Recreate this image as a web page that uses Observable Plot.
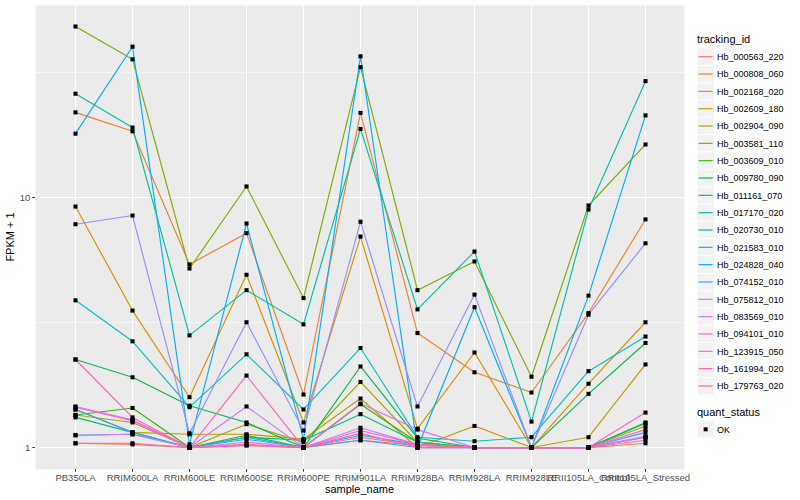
<!DOCTYPE html>
<html><head><meta charset="utf-8">
<script src="https://cdn.jsdelivr.net/npm/d3@7"></script>
<script src="https://cdn.jsdelivr.net/npm/@observablehq/plot@0.6"></script>
<style>
body{margin:0;background:#fff;font-family:"Liberation Sans",Arial,sans-serif;}
#wrap{position:relative;width:800px;height:500px;overflow:hidden;}
#wrap svg{display:block;}
#overlay{position:absolute;left:0;top:0;pointer-events:none;}
</style></head><body><div id="wrap"></div>
<script>
// ---- data ----
const samples = ["PB350LA","RRIM600LA","RRIM600LE","RRIM600SE","RRIM600PE","RRIM901LA","RRIM928BA","RRIM928LA","RRIM928LE","RRII105LA_Control","RRII105LA_Stressed"];
const trackingIds = ["Hb_000563_220","Hb_000808_060","Hb_002168_020","Hb_002609_180","Hb_002904_090","Hb_003581_110","Hb_003609_010","Hb_009780_090","Hb_011161_070","Hb_017170_020","Hb_020730_010","Hb_021583_010","Hb_024828_040","Hb_074152_010","Hb_075812_010","Hb_083569_010","Hb_094101_010","Hb_123915_050","Hb_161994_020","Hb_179763_020"];
const trackingColors = ["#F8766D","#EA8331","#D89000","#C09B00","#A3A500","#7CAE00","#39B600","#00BB4E","#00BF7D","#00C1A3","#00BFC4","#00BAE0","#00B0F6","#35A2FF","#9590FF","#C77CFF","#E76BF3","#FA62DB","#FF62BC","#FF6C91"];

// FPKM + 1 per tracking id, in sample order
const Hb_000563_220 = [1.04, 1.03, 1.00, 1.02, 1.00, 1.07, 1.02, 1.00, 1.00, 1.00, 1.04];
const Hb_000808_060 = [21.9, 18.4, 5.40, 7.20, 1.63, 21.8, 2.87, 2.00, 1.66, 3.45, 8.17];
const Hb_002168_020 = [9.20, 3.53, 1.59, 4.91, 1.26, 6.98, 1.19, 2.40, 1.00, 1.80, 3.17];
const Hb_002609_180 = [1.42, 1.15, 1.13, 1.13, 1.08, 1.57, 1.00, 1.22, 1.00, 1.10, 2.15];
const Hb_002904_090 = [1.35, 1.26, 1.00, 1.24, 1.05, 1.83, 1.05, 1.00, 1.00, 1.00, 1.22];
const Hb_003581_110 = [48.3, 35.7, 5.20, 11.07, 3.96, 33.2, 4.26, 5.55, 1.92, 9.29, 16.3];
const Hb_003609_010 = [1.35, 1.44, 1.00, 1.12, 1.00, 1.49, 1.05, 1.00, 1.00, 1.00, 1.25];
const Hb_009780_090 = [2.25, 1.91, 1.47, 1.26, 1.00, 2.11, 1.09, 1.00, 1.00, 1.64, 2.62];
const Hb_011161_070 = [1.32, 1.15, 1.00, 1.10, 1.07, 1.36, 1.05, 1.00, 1.00, 1.00, 1.26];
const Hb_017170_020 = [26.0, 19.05, 2.81, 4.26, 3.11, 18.8, 3.57, 6.08, 1.27, 8.95, 29.2];
const Hb_020730_010 = [3.88, 2.66, 1.45, 2.36, 1.42, 2.50, 1.10, 1.06, 1.10, 2.02, 2.78];
const Hb_021583_010 = [1.12, 1.13, 1.00, 1.10, 1.00, 1.12, 1.03, 1.00, 1.00, 1.00, 1.10];
const Hb_024828_040 = [18.0, 40.1, 1.03, 7.87, 1.08, 36.7, 1.00, 3.64, 1.00, 4.05, 21.3];
const Hb_074152_010 = [1.42, 1.15, 1.00, 1.08, 1.00, 1.07, 1.00, 1.00, 1.00, 1.00, 1.15];
const Hb_075812_010 = [7.82, 8.47, 1.14, 3.17, 1.17, 8.00, 1.46, 4.09, 1.00, 3.40, 6.56];
const Hb_083569_010 = [1.12, 1.13, 1.00, 1.46, 1.00, 1.20, 1.03, 1.00, 1.00, 1.00, 1.11];
const Hb_094101_010 = [1.46, 1.29, 1.00, 1.05, 1.00, 1.50, 1.18, 1.00, 1.00, 1.00, 1.10];
const Hb_123915_050 = [1.45, 1.28, 1.00, 1.02, 1.00, 1.17, 1.03, 1.00, 1.00, 1.00, 1.18];
const Hb_161994_020 = [2.25, 1.32, 1.00, 1.94, 1.00, 1.14, 1.00, 1.00, 1.00, 1.00, 1.38];
const Hb_179763_020 = [1.04, 1.04, 1.00, 1.03, 1.00, 1.10, 1.02, 1.00, 1.00, 1.00, 1.07];

const seriesValues = [Hb_000563_220, Hb_000808_060, Hb_002168_020, Hb_002609_180, Hb_002904_090, Hb_003581_110, Hb_003609_010, Hb_009780_090, Hb_011161_070, Hb_017170_020, Hb_020730_010, Hb_021583_010, Hb_024828_040, Hb_074152_010, Hb_075812_010, Hb_083569_010, Hb_094101_010, Hb_123915_050, Hb_161994_020, Hb_179763_020];

const yMajor = [1, 10];
const yMinor = [Math.sqrt(10), Math.sqrt(1000)];

// ---- build table ----
const rows = [];
trackingIds.forEach((id, i) => seriesValues[i].forEach((v, j) => rows.push({tracking_id: id, sample_name: samples[j], fpkm1: v, quant_status: "OK"})));

const FONT = '"Liberation Sans", Arial, sans-serif';
const W = 690, H = 500;
const plot = Plot.plot({
  width: W, height: H,
  marginLeft: 35, marginRight: 6, marginTop: 5, marginBottom: 31,
  style: {fontFamily: FONT, fontSize: "9.5px", background: "transparent", overflow: "visible"},
  x: {type: "point", domain: samples, padding: 0.6},
  y: {type: "log", domain: [0.817, 58.6]},
  color: {domain: trackingIds, range: trackingColors},
  marks: [
    Plot.frame({fill: "#EBEBEB", stroke: null}),
    Plot.ruleY(yMinor, {stroke: "white", strokeWidth: 0.55}),
    Plot.ruleY(yMajor, {stroke: "white", strokeWidth: 1.1}),
    Plot.ruleX(samples, {stroke: "white", strokeWidth: 1.1}),
    Plot.line(rows, {x: "sample_name", y: "fpkm1", z: "tracking_id", stroke: "tracking_id", strokeWidth: 1.15}),
    Plot.dot(rows, {x: "sample_name", y: "fpkm1", symbol: "square", fill: "black", stroke: null, r: 2.3}),
    Plot.axisX({tickSize: 2.7, tickPadding: 2.5, stroke: "#333333", fill: "#4D4D4D", fontSize: 9.5, label: null}),
    Plot.axisY({ticks: yMajor, tickFormat: d => String(d), tickSize: 2.7, tickPadding: 2.5, stroke: "#333333", fill: "#4D4D4D", fontSize: 9.5, label: null})
  ]
});
const wrap = document.getElementById("wrap");
wrap.appendChild(plot);

// ---- overlay: axis titles + legend ----
const ov = d3.select(wrap).append("svg").attr("id", "overlay").attr("width", 800).attr("height", 500)
  .style("font-family", FONT);
ov.append("text").attr("x", 359.5).attr("y", 493).attr("text-anchor", "middle").attr("font-size", 11).attr("fill", "black").text("sample_name");
ov.append("text").attr("transform", "translate(13.5,237) rotate(-90)").attr("text-anchor", "middle").attr("font-size", 11).attr("fill", "black").text("FPKM + 1");

const lx = 697, ky0 = 56.7, kstep = 17.33, kw = 17.3;
ov.append("text").attr("x", lx).attr("y", 43).attr("font-size", 11).attr("fill", "black").text("tracking_id");
const keys = ov.append("g").selectAll("g").data(trackingIds).join("g")
  .attr("transform", (d, i) => `translate(${lx},${ky0 + i * kstep})`);
keys.append("rect").attr("x", 0).attr("y", -kw / 2).attr("width", kw).attr("height", kw).attr("fill", "#F2F2F2").attr("stroke", "white").attr("stroke-width", 0.8);
keys.append("line").attr("x1", 1.7).attr("x2", kw - 1.7).attr("y1", 0).attr("y2", 0).attr("stroke", (d, i) => trackingColors[i]).attr("stroke-width", 1.2);
keys.append("text").attr("x", 20).attr("y", 3.2).attr("font-size", 9).attr("fill", "black").text(d => d);

ov.append("text").attr("x", lx).attr("y", 416).attr("font-size", 11).attr("fill", "black").text("quant_status");
const ok = ov.append("g").attr("transform", `translate(${lx},429.3)`);
ok.append("rect").attr("x", 0).attr("y", -kw / 2).attr("width", kw).attr("height", kw).attr("fill", "#F2F2F2").attr("stroke", "white").attr("stroke-width", 0.8);
ok.append("rect").attr("x", kw / 2 - 2).attr("y", -2).attr("width", 4).attr("height", 4).attr("fill", "black");
ok.append("text").attr("x", 20).attr("y", 3.2).attr("font-size", 9).attr("fill", "black").text("OK");
</script></body></html>
